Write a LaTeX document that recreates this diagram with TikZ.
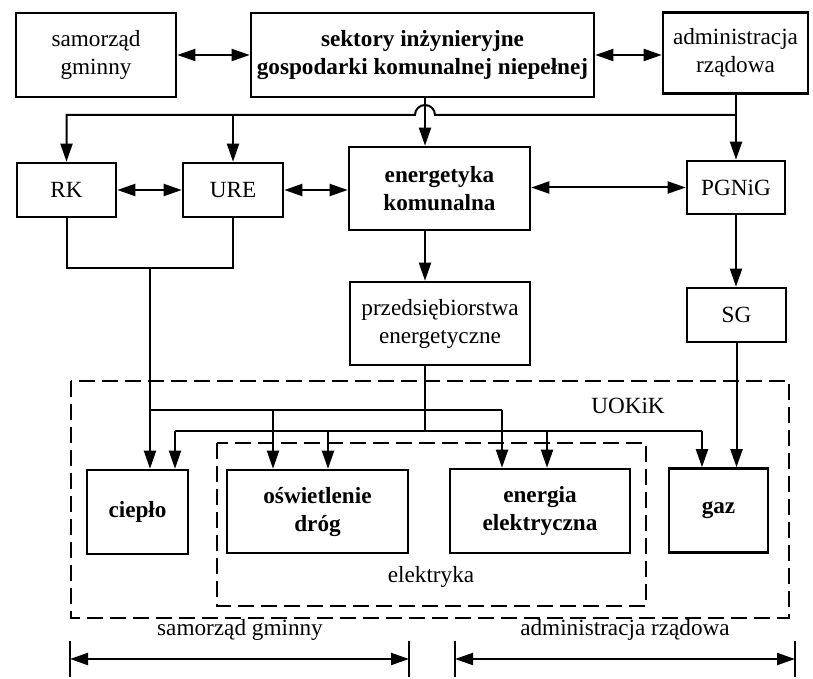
\documentclass[tikz,border=0pt]{standalone}
\usepackage{fontspec}
\setmainfont{Liberation Serif}
\usetikzlibrary{arrows.meta}

\begin{document}
\begin{tikzpicture}[x=0.5pt,y=-0.5pt,
  >={Triangle[length=9pt,width=6pt]},
  line width=1pt,
  blok/.style={draw,line width=1.3pt,align=center,inner sep=1pt,font=\fontsize{11.6}{14}\selectfont},
  gruby/.style={font=\fontsize{11.6}{14}\selectfont\bfseries},
  kreska/.style={line width=1.3pt,dash pattern=on 8pt off 3.5pt},
  opis/.style={font=\fontsize{11.6}{14}\selectfont}]
\useasboundingbox (0,0) rectangle (813,679);
% gorny rzad
\node[blok,minimum width=80pt,minimum height=42pt] (sam) at (96,55) {samorząd\\gminny};
\node[blok,gruby,minimum width=171.5pt,minimum height=42pt] (sek) at (422.5,55) {sektory inżynieryjne\\gospodarki komunalnej niepełnej};
\node[blok,minimum width=72.5pt,minimum height=40.5pt] (adm) at (735.5,53) {administracja\\rządowa};
% drugi rzad
\node[blok,minimum width=49.5pt,minimum height=27pt] (rk) at (66.5,190) {RK};
\node[blok,minimum width=50pt,minimum height=27pt] (ure) at (233,190) {URE};
\node[blok,gruby,minimum width=90.5pt,minimum height=41.5pt] (ene) at (439.5,188.5) {energetyka\\komunalna};
\node[blok,minimum width=49pt,minimum height=26.5pt] (pg) at (736,187.5) {PGNiG};
\node[blok,minimum width=90pt,minimum height=41.5pt] (prz) at (440,323.5) {przedsiębiorstwa\\energetyczne};
\node[blok,minimum width=49.5pt,minimum height=27pt] (sg) at (736.5,315) {SG};
% dolny rzad
\node[blok,gruby,minimum width=50.5pt,minimum height=42pt] (ciep) at (137.5,512) {ciepło};
\node[blok,gruby,minimum width=90.5pt,minimum height=41.5pt] (osw) at (317.5,511.5) {oświetlenie\\dróg};
\node[blok,gruby,minimum width=90pt,minimum height=42pt] (ee) at (540,511) {energia\\elektryczna};
\node[blok,gruby,minimum width=49.5pt,minimum height=42pt] (gaz) at (718.5,510.5) {gaz};
% obszary przerywane
\draw[kreska] (71,381) rectangle (789,618);
\draw[kreska] (217,443) rectangle (646,606);
\node[opis] (uokik) at (628,406) {UOKiK};
\node[opis] (elek) at (431,577) {elektryka};
% strzalki dwustronne
\draw[<->] (sam.east) -- (sek.west);
\draw[<->] (sek.east) -- (adm.west |- sek.east);
\draw[<->] (rk.east) -- (ure.west);
\draw[<->] (ure.east) -- (ene.west |- ure.east);
\draw[<->] (ene.east |- pg.west) -- (pg.west);
% szyna od administracji
\coordinate (szyna) at (736,115);
\coordinate (hx) at (425,115);
\draw[->] (adm.south -| szyna) -- (pg.north -| szyna);
\draw[->] (szyna) -- (435,115) arc[start angle=0,end angle=-180,radius=10]
  -- (rk.north |- szyna) -- (rk.north);
\draw[->] (ure.north |- szyna) -- (ure.north);
\draw[->] (sek.south -| hx) -- (ene.north -| hx);
\draw[->] (ene.south -| hx) -- (prz.north -| hx);
\draw[->] (pg.south -| szyna) -- (sg.north -| szyna);
\draw[->] (sg.south) -- (sg.south |- gaz.north);
% RK i URE
\coordinate (rku) at (150,268);
\draw (rk.south) -- (rk.south |- rku) -- (ure.south |- rku) -- (ure.south);
\draw[->] (rku) -- (rku |- ciep.north);
\coordinate (a1) at (150,410);
\coordinate (a2) at (273,410);
\coordinate (a3) at (502,410);
\draw (a1) -- (a3);
\draw[->] (a2) -- (a2 |- osw.north);
\draw[->] (a3) -- (a3 |- ee.north);
% przedsiebiorstwa
\coordinate (b0) at (425,431);
\coordinate (b1) at (175,431);
\coordinate (b2) at (328,431);
\coordinate (b3) at (547,431);
\coordinate (b4) at (702,431);
\draw (prz.south -| b0) -- (b0);
\draw (b1) -- (b4);
\draw[->] (b1) -- (b1 |- ciep.north);
\draw[->] (b2) -- (b2 |- osw.north);
\draw[->] (b3) -- (b3 |- ee.north);
\draw[->] (b4) -- (b4 |- gaz.north);
% zakresy
\coordinate (w1) at (70,659);
\coordinate (w2) at (409,659);
\coordinate (w3) at (455,659);
\coordinate (w4) at (795,659);
\foreach \w in {w1,w2,w3,w4}
  \draw ([yshift=9pt]\w) -- ([yshift=-9pt]\w);
\draw[<->] (w1) -- (w2);
\draw[<->] (w3) -- (w4);
\node[opis] (zs) at (240,630) {samorząd gminny};
\node[opis] (za) at (625,630) {administracja rządowa};
\end{tikzpicture}
\end{document}
